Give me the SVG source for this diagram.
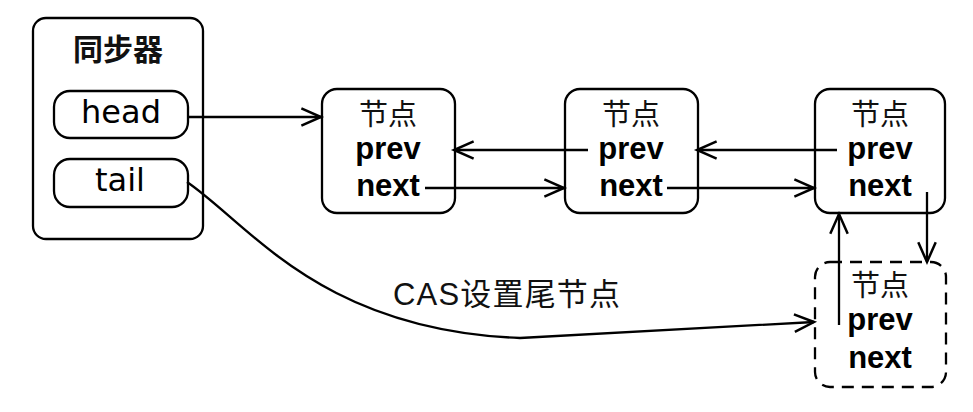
<svg xmlns="http://www.w3.org/2000/svg" width="973" height="412" viewBox="0 0 973 412">
<defs>
<marker id="arr" markerUnits="userSpaceOnUse" markerWidth="24" markerHeight="24" viewBox="-20 -10 22 20" refX="0" refY="0" orient="auto" overflow="visible">
<path d="M-18,-8 L0,0 L-18,8" fill="none" stroke="#000" stroke-width="2.3"/>
</marker>
</defs>
<style>
.box{fill:#fff;stroke:#000;stroke-width:2.3}
.dash{fill:#fff;stroke:#000;stroke-width:2.3;stroke-dasharray:12 8}
.cjk{font-family:"Noto Sans CJK SC","Liberation Sans",sans-serif;font-size:29px;text-anchor:middle;fill:#111}
.fld{font-family:"Liberation Sans",Arial,sans-serif;font-weight:bold;font-size:31px;text-anchor:middle;fill:#000}
.ptr{font-family:"DejaVu Sans","Liberation Sans",sans-serif;font-size:32px;text-anchor:middle;fill:#000}
.con{fill:none;stroke:#000;stroke-width:2.3;marker-end:url(#arr)}
.lbl{font-family:"Liberation Sans","Noto Sans CJK SC",sans-serif;font-size:31px;fill:#111}
</style>
<rect width="973" height="412" fill="#fff"/>
<g id="sync">
<rect class="box" x="33" y="18" width="170" height="221" rx="13"/>
<text class="cjk" x="118" y="60" style="font-weight:600;font-size:30px">同步器</text>
</g>
<g id="head">
<rect class="box" x="54" y="91" width="134" height="47" rx="16"/>
<text class="ptr" x="121" y="123">head</text>
</g>
<g id="tail">
<rect class="box" x="54" y="159" width="134" height="48" rx="16"/>
<text class="ptr" x="120" y="191">tail</text>
</g>
<g id="node1">
<rect class="box" x="322" y="89" width="133" height="124" rx="15"/>
<text class="cjk" x="388" y="125">节点</text>
<text class="fld" x="388" y="159">prev</text>
<text class="fld" x="388" y="196">next</text>
</g>
<g id="node2">
<rect class="box" x="565" y="89" width="133" height="124" rx="15"/>
<text class="cjk" x="631" y="125">节点</text>
<text class="fld" x="631" y="159">prev</text>
<text class="fld" x="631" y="196">next</text>
</g>
<g id="node3">
<rect class="box" x="815" y="89" width="130" height="124" rx="15"/>
<text class="cjk" x="880" y="125">节点</text>
<text class="fld" x="880" y="159">prev</text>
<text class="fld" x="880" y="196">next</text>
</g>
<g id="node4">
<rect class="dash" x="815" y="262" width="131" height="125" rx="15"/>
<text class="cjk" x="880" y="296">节点</text>
<text class="fld" x="880" y="330">prev</text>
<text class="fld" x="880" y="368">next</text>
</g>
<g id="connectors">
<path class="con" d="M188,117 L321,117"/>
<path class="con" d="M588,150 L454,150"/>
<path class="con" d="M837,150 L697,150"/>
<path class="con" d="M425,188 L564,188"/>
<path class="con" d="M667,188 L814,188"/>
<path class="con" d="M927,192 L927,262"/>
<path class="con" d="M839,325 L839,214"/>
<path class="con" d="M187,182 C250,225 320,330 520,338 L814,322"/>
<text class="lbl" x="393" y="305" textLength="227">CAS设置尾节点</text>
</g>
</svg>
